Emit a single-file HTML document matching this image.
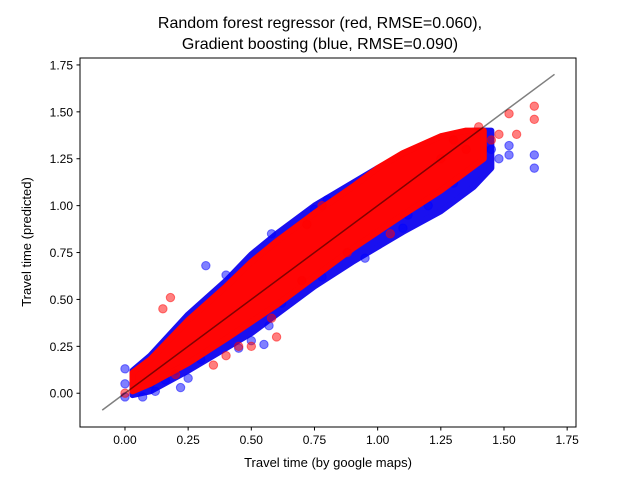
<!DOCTYPE html>
<html><head><meta charset="utf-8"><style>
body{margin:0;background:#fff;font-family:"Liberation Sans",sans-serif}
svg text{font-family:"Liberation Sans","DejaVu Sans",sans-serif}
</style></head><body>
<svg id="chart" width="640" height="480" viewBox="0 0 640 480">
<rect width="640" height="480" fill="#fff"/>
<g id="marks"></g>
<text x="320" y="28" text-anchor="middle" font-size="16">Random forest regressor (red, RMSE=0.060),</text>
<text x="320" y="49" text-anchor="middle" font-size="16">Gradient boosting (blue, RMSE=0.090)</text>
<text x="328" y="467" text-anchor="middle" font-size="13">Travel time (by google maps)</text>
<text transform="translate(31,242) rotate(-90)" text-anchor="middle" font-size="13">Travel time (predicted)</text>
<g id="axes"></g>
</svg>
<script>
const xTicks=[0,0.25,0.5,0.75,1.0,1.25,1.5,1.75];
const xTickLabels=["0.00","0.25","0.50","0.75","1.00","1.25","1.50","1.75"];
const yTicks=[0,0.25,0.5,0.75,1.0,1.25,1.5,1.75];
const yTickLabels=["0.00","0.25","0.50","0.75","1.00","1.25","1.50","1.75"];
const diagonal=[-0.09,1.7];
// density envelopes (x, low, high)
const blueEnvX=[0.03,0.1,0.25,0.4,0.5,0.6,0.75,0.9,1.0,1.1,1.25,1.38,1.45];
const blueEnvLo=[-0.01,0.01,0.12,0.24,0.32,0.42,0.57,0.7,0.78,0.86,0.97,1.1,1.2];
const blueEnvHi=[0.12,0.2,0.42,0.6,0.74,0.85,1.0,1.12,1.2,1.27,1.35,1.4,1.4];
const redEnvX=[0.03,0.1,0.25,0.4,0.5,0.6,0.75,0.9,1.0,1.1,1.25,1.35,1.42];
const redEnvLo=[0.01,0.05,0.16,0.29,0.38,0.47,0.62,0.77,0.86,0.95,1.08,1.18,1.25];
const redEnvHi=[0.11,0.18,0.39,0.57,0.7,0.81,0.96,1.1,1.2,1.28,1.37,1.4,1.4];
// scattered outlying points
const blueX=[0.0,0.0,0.0,0.07,0.1,0.16,0.2,0.22,0.25,0.27,0.35,0.38,0.42,0.45,0.5,0.55,0.57,0.6,0.62,0.62,0.65,0.7,0.72,0.75,0.8,0.85,0.88,1.0,1.05,1.12,1.2,1.25,1.3,1.35,1.42,1.45,1.48,1.52,1.52,1.62,1.62,0.3,0.45,0.32,0.68,0.78,0.95,1.1,0.2,0.4,0.58,0.12];
const blueY=[0.13,0.05,-0.02,-0.02,0.05,0.07,0.12,0.03,0.08,0.3,0.42,0.52,0.58,0.55,0.28,0.26,0.36,0.5,0.7,0.48,0.75,0.8,0.88,0.98,1.03,0.95,0.87,1.1,1.05,0.95,1.0,1.1,1.12,1.25,1.3,1.3,1.25,1.32,1.27,1.27,1.2,0.18,0.24,0.68,0.58,0.62,0.72,0.88,0.21,0.63,0.85,0.01];
const redX=[0.0,0.18,0.15,0.2,0.45,0.5,0.6,0.58,0.72,0.78,1.25,1.3,1.4,1.45,1.48,1.52,1.62,1.62,1.55,1.35,0.35,0.4,0.88,1.05,0.7];
const redY=[0.0,0.51,0.45,0.1,0.25,0.25,0.3,0.4,0.9,1.0,1.25,1.35,1.42,1.35,1.38,1.49,1.53,1.46,1.38,1.3,0.15,0.2,0.75,0.85,0.6];

const L=80,R=576,T=58,B=427,xmin=-0.178,xmax=1.785,ymin=-0.18,ymax=1.787;
const sx=v=>L+(v-xmin)/(xmax-xmin)*(R-L);
const sy=v=>B-(v-ymin)/(ymax-ymin)*(B-T);
const NS="http://www.w3.org/2000/svg";
const marks=document.getElementById('marks'), axes=document.getElementById('axes');
function mk(tag,attrs,parent){const e=document.createElementNS(NS,tag);for(const k in attrs)e.setAttribute(k,attrs[k]);parent.appendChild(e);return e;}
function band(xs,lo,hi,color,name){
  let pts=xs.map((x,i)=>sx(x)+','+sy(hi[i]));
  for(let i=xs.length-1;i>=0;i--)pts.push(sx(xs[i])+','+sy(lo[i]));
  const p=mk('polygon',{points:pts.join(' '),fill:color,stroke:color,'stroke-width':6,'stroke-linejoin':'round'},marks);
  
  
}
function pts(xs,ys,color,name){
  xs.forEach((x,i)=>{const c=mk('circle',{cx:sx(x),cy:sy(ys[i]),r:4.2,fill:color,'fill-opacity':0.5,stroke:color,'stroke-opacity':0.5},marks);
    
    });
}
band(blueEnvX,blueEnvLo,blueEnvHi,'#1a10f0','blue-density-band');
pts(blueX,blueY,'#0000ff','blue-point');
band(redEnvX,redEnvLo,redEnvHi,'#ff0505','red-density-band');
pts(redX,redY,'#ff0000','red-point');
const dl=mk('line',{x1:sx(diagonal[0]),y1:sy(diagonal[0]),x2:sx(diagonal[1]),y2:sy(diagonal[1]),stroke:'#000','stroke-opacity':0.5,'stroke-width':1.5},marks);


const fr=mk('rect',{x:L,y:T,width:R-L,height:B-T,fill:'none',stroke:'#000','stroke-width':1},axes);


xTicks.forEach((v,i)=>{mk('line',{x1:sx(v),x2:sx(v),y1:B,y2:B+3.5,stroke:'#000'},axes);
  const t=mk('text',{x:sx(v),y:B+17,'text-anchor':'middle','font-size':12},axes);t.textContent=xTickLabels[i];
  
  });
yTicks.forEach((v,i)=>{mk('line',{x1:L-3.5,x2:L,y1:sy(v),y2:sy(v),stroke:'#000'},axes);
  const t=mk('text',{x:L-7,y:sy(v)+4.5,'text-anchor':'end','font-size':12},axes);t.textContent=yTickLabels[i];
  
  });
</script>
</body></html>
